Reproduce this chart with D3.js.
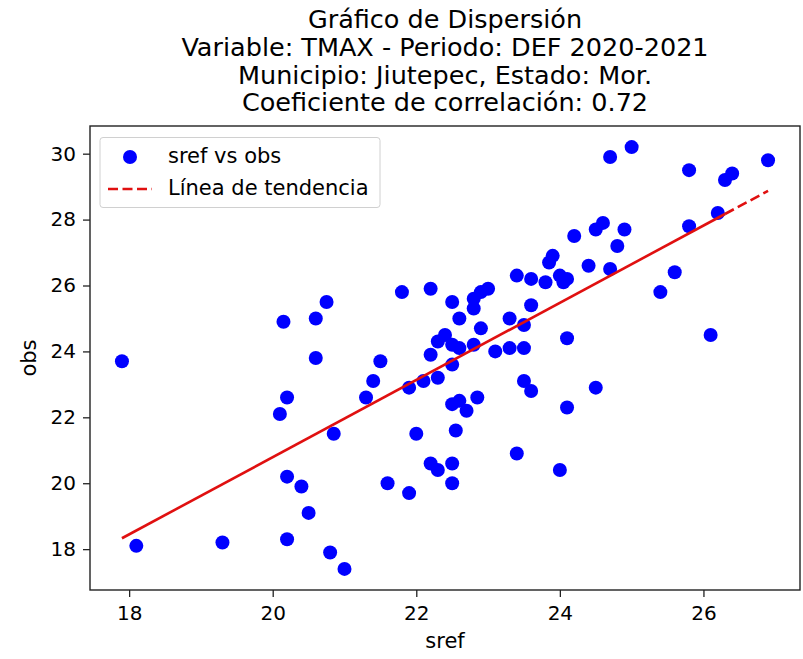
<!DOCTYPE html>
<html>
<head>
<meta charset="utf-8">
<script src="https://cdn.jsdelivr.net/npm/d3@7"></script>
<style>
  html, body { margin: 0; padding: 0; background: #fff; }
  text { font-family: "DejaVu Sans", sans-serif; fill: #000; }
</style>
</head>
<body>
<svg id="chart" width="803" height="659"></svg>
<script>
// ---- data ----
const titleLines = [
  "Gráfico de Dispersión",
  "Variable: TMAX - Periodo: DEF 2020-2021",
  "Municipio: Jiutepec, Estado: Mor.",
  "Coeficiente de correlación: 0.72"
];
const srefValues = [
  17.9, 18.1, 19.3, 20.1, 20.2, 20.15, 20.2, 20.2, 20.4, 20.5,
  20.6, 20.6, 20.75, 20.8, 20.85, 21.0, 21.3, 21.4, 21.5, 21.6,
  21.8, 21.9, 21.9, 22.0, 22.1, 22.2, 22.2, 22.2, 22.3, 22.3,
  22.3, 22.4, 22.5, 22.5, 22.5, 22.5, 22.55, 22.5, 22.5, 22.6,
  22.6, 22.6, 22.7, 22.8, 22.8, 22.8, 22.85, 22.9, 22.9, 23.0,
  23.1, 23.3, 23.3, 23.4, 23.4, 23.5, 23.5, 23.5, 23.6, 23.6,
  23.6, 23.8, 23.85, 23.9, 24.0, 24.0, 24.05, 24.1, 24.1, 24.1,
  24.2, 24.4, 24.5, 24.5, 24.6, 24.7, 24.7, 24.8, 24.9, 25.0,
  25.4, 25.6, 25.8, 25.8, 26.1, 26.2, 26.3, 26.4, 26.9
];
const obsValues = [
  23.7, 18.1, 18.2, 22.1, 22.6, 24.9, 20.2, 18.3, 19.9, 19.1,
  25.0, 23.8, 25.5, 17.9, 21.5, 17.4, 22.6, 23.1, 23.7, 20.0,
  25.8, 22.9, 19.7, 21.5, 23.1, 25.9, 23.9, 20.6, 23.2, 24.3,
  20.4, 24.5, 25.5, 24.2, 23.6, 22.4, 21.6, 20.6, 20.0, 25.0,
  24.1, 22.5, 22.2, 25.6, 25.3, 24.2, 22.6, 25.8, 24.7, 25.9,
  24.0, 25.0, 24.1, 26.3, 20.9, 24.8, 24.1, 23.1, 25.4, 26.2,
  22.8, 26.1, 26.7, 26.9, 26.3, 20.4, 26.1, 26.2, 24.4, 22.3,
  27.5, 26.6, 27.7, 22.9, 27.9, 29.9, 26.5, 27.2, 27.7, 30.2,
  25.8, 26.4, 29.5, 27.8, 24.5, 28.2, 29.2, 29.4, 29.8
];
// trend line (solid part, then visibly dashed tail)
const trendX = [17.9, 26.3, 26.9];
const trendY = [18.33, 28.17, 28.87];
const xTicks = [18, 20, 22, 24, 26];
const yTicks = [18, 20, 22, 24, 26, 28, 30];
const xLabel = "sref";
const yLabel = "obs";
const legendLabels = ["sref vs obs", "Línea de tendencia"];

// ---- layout ----
const svg = d3.select("#chart");
const L = 90, R = 800, T = 126, B = 590;
const x = d3.scaleLinear().domain([17.455, 27.345]).range([L, R]);
const y = d3.scaleLinear().domain([16.76, 30.84]).range([B, T]);

svg.append("rect").attr("width", 803).attr("height", 659).attr("fill", "#fff");

// title
svg.append("g").selectAll("text").data(titleLines).join("text")
  .attr("x", (L + R) / 2)
  .attr("y", (d, i) => 28 + i * 27.8)
  .attr("text-anchor", "middle")
  .attr("font-size", 25.5)
  .text(d => d);

// points
const pts = srefValues.map((v, i) => ({ sx: v, ob: obsValues[i] }));
svg.append("g").selectAll("circle").data(pts).join("circle")
  .attr("cx", d => x(d.sx))
  .attr("cy", d => y(d.ob))
  .attr("r", 7)
  .attr("fill", "#0000ff");

// trend line
const trend = trendX.map((v, i) => [x(v), y(trendY[i])]);
svg.append("line")
  .attr("x1", trend[0][0]).attr("y1", trend[0][1])
  .attr("x2", trend[1][0]).attr("y2", trend[1][1])
  .attr("stroke", "#e01010").attr("stroke-width", 2.6);
svg.append("line")
  .attr("x1", trend[1][0]).attr("y1", trend[1][1])
  .attr("x2", trend[2][0]).attr("y2", trend[2][1])
  .attr("stroke", "#e01010").attr("stroke-width", 2.6)
  .attr("stroke-dasharray", "10,4.5");

// axes
const xAxis = d3.axisBottom(x).tickValues(xTicks).tickSize(7).tickPadding(9).tickFormat(d3.format("d"));
const yAxis = d3.axisLeft(y).tickValues(yTicks).tickSize(7).tickPadding(7).tickFormat(d3.format("d"));
const gx = svg.append("g").attr("transform", `translate(0,${B})`).call(xAxis);
const gy = svg.append("g").attr("transform", `translate(${L},0)`).call(yAxis);
[gx, gy].forEach(g => {
  g.select(".domain").remove();
  g.selectAll(".tick line").attr("stroke", "#222").attr("stroke-width", 1.3);
  g.selectAll(".tick text").attr("font-size", 20).attr("font-family", "DejaVu Sans").attr("fill", "#000");
});

// frame
svg.append("rect").attr("x", L).attr("y", T).attr("width", R - L).attr("height", B - T)
  .attr("fill", "none").attr("stroke", "#222").attr("stroke-width", 1.4);

// axis labels
svg.append("text").attr("x", (L + R) / 2).attr("y", 648)
  .attr("text-anchor", "middle").attr("font-size", 21).text(xLabel);
svg.append("text").attr("transform", `translate(36,${(T + B) / 2}) rotate(-90)`)
  .attr("text-anchor", "middle").attr("font-size", 21).text(yLabel);

// legend
const lg = svg.append("g");
lg.append("rect").attr("x", 100).attr("y", 137.5).attr("width", 280).attr("height", 70)
  .attr("rx", 3).attr("fill", "#fff").attr("fill-opacity", 0.8)
  .attr("stroke", "#d0d0d0").attr("stroke-width", 1);
lg.append("circle").attr("cx", 130).attr("cy", 157).attr("r", 7).attr("fill", "#0000ff");
lg.append("line").attr("x1", 108).attr("x2", 152).attr("y1", 189).attr("y2", 189)
  .attr("stroke", "#e01010").attr("stroke-width", 2.6).attr("stroke-dasharray", "10,4.5");
lg.selectAll("text.lbl").data(legendLabels).join("text").attr("class", "lbl")
  .attr("x", 168).attr("y", (d, i) => 163 + i * 32)
  .attr("font-size", 21).text(d => d);
</script>
</body>
</html>
